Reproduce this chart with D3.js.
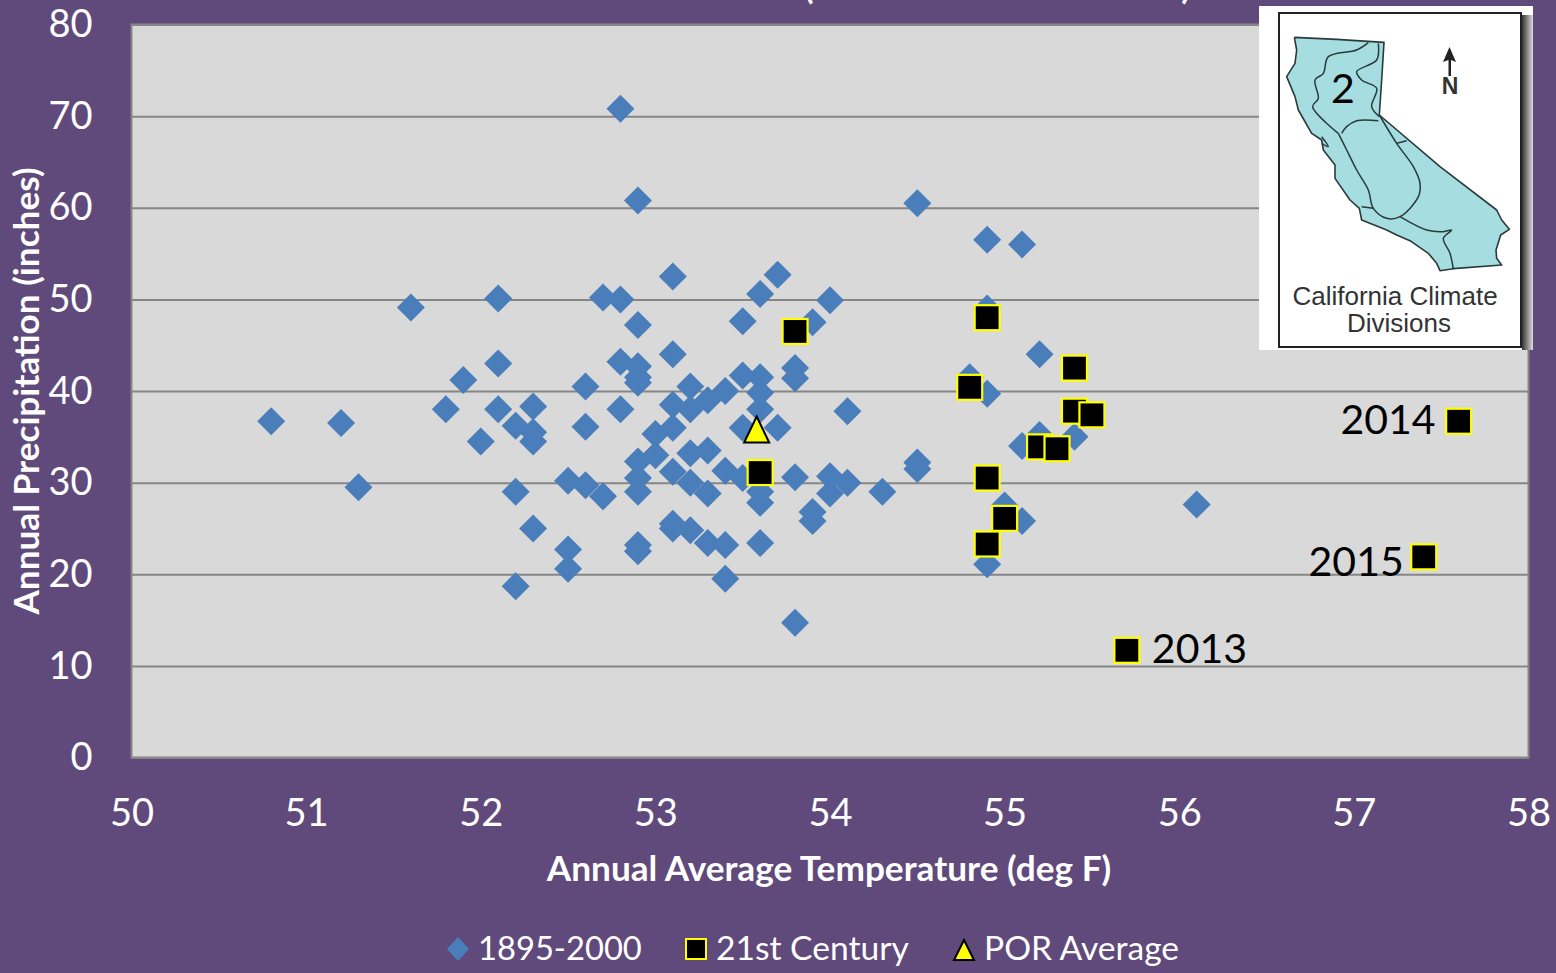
<!DOCTYPE html>
<html>
<head>
<meta charset="utf-8">
<script src="https://cdn.jsdelivr.net/npm/d3@7"></script>
<style>
    html, body { margin: 0; padding: 0; background: #604a7b; overflow: hidden; }
    text { font-family: Lato, "Open Sans", sans-serif; }
</style>
</head>
<body>
<svg id="chart" width="1556" height="973"></svg>
<script>
// 1895-2000 values
const hist_temp = [50.8,51.2,51.3,51.6,51.8,51.9,52.0,52.1,52.1,52.1,52.2,52.2,52.2,52.3,52.3,52.3,52.3,
    52.5,52.5,52.5,52.6,52.6,52.6,52.7,52.7,52.8,52.8,52.8,52.8,52.9,52.9,52.9,52.9,52.9,52.9,52.9,52.9,52.9,52.9,
    53.0,53.0,53.1,53.1,53.1,53.1,53.1,53.1,53.1,53.2,53.2,53.2,53.2,53.2,53.3,53.3,53.3,53.3,
    53.4,53.4,53.4,53.4,53.5,53.5,53.5,53.5,53.6,53.6,53.6,53.6,53.6,53.6,53.6,53.7,53.7,
    53.8,53.8,53.8,53.8,53.9,53.9,53.9,54.0,54.0,54.0,54.1,54.1,54.3,54.5,54.5,54.5,
    54.8,54.9,54.9,54.9,54.9,55.0,55.1,55.1,55.1,55.2,55.2,55.4,56.1];
const hist_precip = [36.7,36.5,29.5,49.1,38.0,41.2,34.5,50.1,43.0,38.0,36.2,29.0,18.7,38.3,35.5,34.5,25.0,
    30.2,22.7,20.6,40.5,36.1,29.7,50.2,28.5,70.8,50.0,43.2,38.0,60.8,47.2,42.7,41.5,40.9,32.3,30.5,29.0,23.2,22.5,
    35.3,33.0,52.5,44.0,38.5,36.0,31.2,25.5,25.0,40.5,38.0,33.2,30.0,24.8,39.0,33.5,28.8,23.4,
    40.0,31.3,23.2,19.5,47.6,41.7,36.0,30.5,50.6,41.5,39.8,38.0,29.0,27.8,23.4,52.7,36.0,
    42.5,41.4,30.6,14.7,47.5,26.8,25.8,49.9,30.7,28.8,37.8,30.0,29.0,60.5,32.2,31.5,
    41.5,56.5,49.0,39.7,21.1,27.5,56.0,34.0,25.8,44.0,35.2,35.0,27.6];

// 21st century values
const recent_temp = [53.6,53.8,54.8,54.9,54.9,54.9,55.0,55.2,55.3,55.4,55.4,55.5,55.7,57.4,57.6];
const recent_precip = [31.1,46.5,40.4,48.0,30.5,23.3,26.1,33.9,33.7,42.5,37.8,37.4,11.7,21.9,36.7];

const por_temp = [53.58];
const por_precip = [35.8];

const year_labels = ['2013', '2014', '2015'];
const year_temp = [55.7, 57.6, 57.4];
const year_precip = [11.7, 36.7, 21.9];

const x_ticks = [50,51,52,53,54,55,56,57,58];
const y_ticks = [0,10,20,30,40,50,60,70,80];

const legend_names = ['1895-2000', '21st Century', 'POR Average'];

// inset map linework, in pixels of the inset picture
const ca_outline = [[163,112],[290,118],[432,127],[425,240],[418,345],[600,500],[770,630],[785,660],[808,688],[782,705],[768,750],[770,775],[785,795],[640,806],[600,812],[590,790],[565,760],[510,722],[470,705],[440,690],[365,660],[358,625],[330,600],[285,535],[285,495],[250,450],[245,420],[215,400],[175,330],[165,290],[140,230],[165,190],[170,150],[163,112]];
const ca_divisions = [
    [[385,128],[350,150],[265,170],[250,220],[225,240],[235,295],[218,320],[295,400]],
    [[305,400],[320,380],[350,362],[415,362]],
    [[418,345],[470,430],[520,500],[540,550],[535,590],[480,650],[440,655],[400,625],[385,570],[350,510],[320,450],[295,400]],
    [[415,130],[410,180],[350,215],[365,240],[410,265],[395,320],[418,350]],
    [[470,430],[500,422]],
    [[480,650],[560,690],[610,695],[635,690],[610,715],[630,760],[640,808]],
    [[400,625],[365,620]],
    [[245,410],[265,440],[245,430]]
];

const svg = d3.select('#chart');
const left = 131.5, right = 1528.5, top_y = 24.5, bottom = 757.5;

let x = d3.scaleLinear().domain([50, 58]).range([left, right]);
let y = d3.scaleLinear().domain([0, 80]).range([bottom, top_y]);

// soft shadow on the right of the inset
let defs = svg.append('defs');
let shade = defs.append('linearGradient').attr('id', 'inset_shade');
shade.append('stop').attr('offset', '0%').attr('stop-color', '#333');
shade.append('stop').attr('offset', '100%').attr('stop-color', '#ddd');

// plot background
svg.append('rect').attr('x', left).attr('y', top_y)
    .attr('width', right - left).attr('height', bottom - top_y)
    .attr('fill', '#d9d9d9').attr('stroke', '#868686').attr('stroke-width', 2);

// clipped title, only the bottoms of the brackets stay on the page
svg.append('text').attr('x', 809).attr('y', -1).attr('fill', '#fff')
    .attr('font-size', 34).attr('font-weight', 700).attr('text-anchor', 'middle').text('(');
svg.append('text').attr('x', 1186).attr('y', -1).attr('fill', '#fff')
    .attr('font-size', 34).attr('font-weight', 700).attr('text-anchor', 'middle').text(')');

// axes
let y_axis = svg.append('g').attr('transform', `translate(${left},0)`)
    .call(d3.axisLeft(y).tickValues(y_ticks).tickSize(-(right - left)).tickPadding(39).tickFormat(d3.format('d')));
let x_axis = svg.append('g').attr('transform', `translate(0,${bottom})`)
    .call(d3.axisBottom(x).tickValues(x_ticks).tickSize(0).tickPadding(42).tickFormat(d3.format('d')));

y_axis.select('.domain').remove();
x_axis.select('.domain').remove();
y_axis.selectAll('line').attr('stroke', '#868686').attr('stroke-width', 2);
svg.selectAll('.tick text').attr('fill', '#fff').attr('font-size', 38)
    .style('font-family', 'Lato, "Open Sans", sans-serif');

// axis titles
svg.append('text').attr('x', 829).attr('y', 881).attr('text-anchor', 'middle')
    .attr('fill', '#fff').attr('font-size', 35.2).attr('font-weight', 700)
    .text('Annual Average Temperature (deg F)');
svg.append('text').attr('transform', 'translate(39,391) rotate(-90)').attr('text-anchor', 'middle')
    .attr('fill', '#fff').attr('font-size', 35.2).attr('font-weight', 700)
    .text('Annual Precipitation (inches)');

const diamond = 'M0,-14L14,0L0,14L-14,0Z';

function draw_square(sel) {
    sel.attr('x', -12.5).attr('y', -12.5).attr('width', 25).attr('height', 25)
        .attr('fill', '#000').attr('stroke', '#ffff00').attr('stroke-width', 2.2);
}

// 1895-2000 points
svg.append('g').selectAll('path').data(hist_temp).join('path')
    .attr('d', diamond)
    .attr('fill', '#4a7ebb')
    .attr('transform', (d, i) => `translate(${x(d)},${y(hist_precip[i])})`);

// 21st century points
svg.append('g').selectAll('rect').data(recent_temp).join('rect')
    .attr('transform', (d, i) => `translate(${x(d)},${y(recent_precip[i])})`)
    .call(draw_square);

// period of record average
svg.append('g').selectAll('path').data(por_temp).join('path')
    .attr('d', 'M0,-13L12.5,13L-12.5,13Z')
    .attr('fill', '#ffff00').attr('stroke', '#000').attr('stroke-width', 2)
    .attr('transform', (d, i) => `translate(${x(d)},${y(por_precip[i])})`);

// year labels next to the squares
const year_dx = [25, -23, -20];
const year_dy = [13, 13, 19];
const year_anchor = ['start', 'end', 'end'];
svg.append('g').selectAll('text').data(year_labels).join('text')
    .attr('x', (d, i) => x(year_temp[i]) + year_dx[i])
    .attr('y', (d, i) => y(year_precip[i]) + year_dy[i])
    .attr('text-anchor', (d, i) => year_anchor[i])
    .attr('fill', '#000').attr('font-size', 41)
    .text(d => d);

// legend
let legend = svg.append('g');
legend.append('path').attr('d', 'M0,-12L11,0L0,12L-11,0Z').attr('fill', '#4a7ebb')
    .attr('transform', 'translate(458,949)');
legend.append('rect').attr('x', 0).attr('y', 0).attr('width', 20).attr('height', 20)
    .attr('transform', 'translate(686,939)')
    .attr('fill', '#000').attr('stroke', '#ffff00').attr('stroke-width', 2);
legend.append('path').attr('d', 'M0,-10L10,10L-10,10Z').attr('fill', '#ffff00')
    .attr('stroke', '#000').attr('stroke-width', 2)
    .attr('transform', 'translate(964,950)');
const legend_x = [478, 716, 984];
const legend_size = [32.7, 33.6, 33.6];
legend.selectAll('text').data(legend_names).join('text')
    .attr('x', (d, i) => legend_x[i]).attr('y', 960)
    .attr('fill', '#fff').attr('font-size', (d, i) => legend_size[i])
    .text(d => d);

// inset
let inset = svg.append('g');
inset.append('rect').attr('x', 1259).attr('y', 6).attr('width', 274).attr('height', 344).attr('fill', '#fff');
inset.append('rect').attr('x', 1522).attr('y', 15).attr('width', 11).attr('height', 335).attr('fill', 'url(#inset_shade)');
inset.append('rect').attr('x', 1279).attr('y', 13).attr('width', 242).attr('height', 334)
    .attr('fill', '#fff').attr('stroke', '#222').attr('stroke-width', 2);

let map_x = d3.scaleLinear().domain([0, 948]).range([1240, 1556]);
let map_y = d3.scaleLinear().domain([0, 1080]).range([0, 360]);
let map_line = d3.line().x(d => map_x(d[0])).y(d => map_y(d[1]));
let map_curve = d3.line().x(d => map_x(d[0])).y(d => map_y(d[1])).curve(d3.curveCatmullRom);

inset.append('path').attr('d', map_line(ca_outline)).attr('fill', '#a5dde0')
    .attr('stroke', '#2a3a3c').attr('stroke-width', 1.6).attr('stroke-linejoin', 'round');
inset.append('g').selectAll('path').data(ca_divisions).join('path')
    .attr('d', map_curve).attr('fill', 'none')
    .attr('stroke', '#2a3a3c').attr('stroke-width', 1.5).attr('stroke-linejoin', 'round');

inset.append('text').attr('x', 1343).attr('y', 103).attr('text-anchor', 'middle')
    .attr('font-size', 41).attr('fill', '#000').text('2');
inset.append('path').attr('d', 'M1449.5,47L1456,62L1451,60L1451,76L1448.5,76L1448.5,60L1443,62Z').attr('fill', '#222');
inset.append('text').attr('x', 1450).attr('y', 94).attr('text-anchor', 'middle')
    .attr('font-size', 23).attr('font-weight', 700).attr('fill', '#333')
    .style('font-family', '"Liberation Sans", sans-serif').text('N');
inset.selectAll('.map-label').data(['California Climate', 'Divisions']).join('text')
    .attr('x', (d, i) => i == 0 ? 1395 : 1399).attr('y', (d, i) => i == 0 ? 305 : 332)
    .attr('text-anchor', 'middle').attr('font-size', 26).attr('fill', '#333')
    .style('font-family', '"Liberation Sans", sans-serif').text(d => d);
</script>
</body>
</html>
